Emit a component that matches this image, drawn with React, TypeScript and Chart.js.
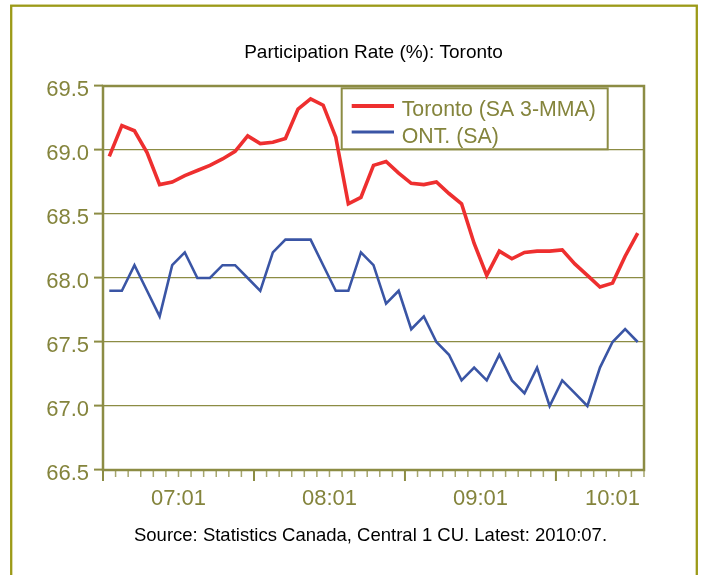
import React, { useEffect, useRef } from "react";
import { Chart, registerables } from "chart.js";

Chart.register(...registerables);

// ---- data ----
const FIRST_YEAR = 2006;
const FIRST_MONTH = 7;
const MONTH_COUNT = 43;
const MONTHS: string[] = [];
for (let i = 0; i < MONTH_COUNT; i++) {
  const m = FIRST_MONTH - 1 + i;
  const y = FIRST_YEAR + Math.floor(m / 12);
  const mm = (m % 12) + 1;
  MONTHS.push(`${y}:${mm < 10 ? "0" + mm : mm}`);
}

const TORONTO_SA_3MMA: number[] = [
  68.95, 69.19, 69.15, 68.98, 68.73, 68.75, 68.8, 68.84, 68.88, 68.93,
  68.99, 69.11, 69.05, 69.06, 69.09, 69.32, 69.4, 69.35, 69.1, 68.58,
  68.63, 68.88, 68.91, 68.82, 68.74, 68.73, 68.75, 68.66, 68.58, 68.27,
  68.02, 68.21, 68.15, 68.2, 68.21, 68.21, 68.22, 68.11, 68.02, 67.93,
  67.96, 68.17, 68.35,
];

const ONT_SA: number[] = [
  67.9, 67.9, 68.1, 67.9, 67.7, 68.1, 68.2, 68.0, 68.0, 68.1,
  68.1, 68.0, 67.9, 68.2, 68.3, 68.3, 68.3, 68.1, 67.9, 67.9,
  68.2, 68.1, 67.8, 67.9, 67.6, 67.7, 67.5, 67.4, 67.2, 67.3,
  67.2, 67.4, 67.2, 67.1, 67.3, 67.0, 67.2, 67.1, 67.0, 67.3,
  67.5, 67.6, 67.5,
];

const SERIES_NAMES = ["Toronto (SA 3-MMA)", "ONT. (SA)"];
const X_TICK_CATEGORIES = ["2007:01", "2008:01", "2009:01", "2010:01"];
const X_TICK_LABELS = ["07:01", "08:01", "09:01", "10:01"];
const Y_MIN = 66.5;
const Y_MAX = 69.5;
const Y_STEP = 0.5;
const TITLE = "Participation Rate (%): Toronto";
const SOURCE = "Source: Statistics Canada, Central 1 CU. Latest: 2010:07.";

// ---- styles ----
const FONT = "'Liberation Sans', Arial, Helvetica, sans-serif";
const OLIVE = "#84843c";
const GRID = "#8c8c44";
const FRAME = "#9c9a18";
const RED = "#ee2f2f";
const BLUE = "#3a55a5";

const decor = {
  id: "decor",
  beforeDraw(chart: any) {
    const ctx = chart.ctx;
    ctx.save();
    ctx.fillStyle = "#ffffff";
    ctx.fillRect(0, 0, chart.width, chart.height);
    ctx.strokeStyle = FRAME;
    ctx.lineWidth = 2.3;
    ctx.strokeRect(11.2, 5.7, 685.6, 640);
    ctx.restore();
  },
  afterDraw(chart: any) {
    const ctx = chart.ctx;
    const a = chart.chartArea;
    const xs = chart.scales.x;
    ctx.save();

    // x tick marks (between categories)
    for (let i = 0; i <= MONTHS.length; i++) {
      const px = xs.getPixelForValue(i - 0.5);
      const major = i % 12 === 0;
      ctx.strokeStyle = major ? GRID : "#a6a66e";
      ctx.lineWidth = major ? 2 : 1.5;
      ctx.beginPath();
      ctx.moveTo(px, a.bottom);
      ctx.lineTo(px, a.bottom + (major ? 11 : 7));
      ctx.stroke();
    }

    // x labels
    ctx.font = `22px ${FONT}`;
    ctx.fillStyle = OLIVE;
    ctx.textAlign = "center";
    ctx.textBaseline = "alphabetic";
    X_TICK_CATEGORIES.forEach((c, j) => {
      const idx = MONTHS.indexOf(c);
      const label = X_TICK_LABELS[j];
      const w = ctx.measureText(label).width;
      let px = xs.getPixelForValue(idx - 0.5);
      px = Math.min(px, a.right - 4 - w / 2);
      ctx.fillText(label, px, 504.5);
    });

    // plot border
    ctx.strokeStyle = GRID;
    ctx.lineWidth = 2.5;
    ctx.strokeRect(a.left, a.top, a.right - a.left, a.bottom - a.top);

    // legend
    const lx = 341.7, ly = 88.3, lw = 266, lh = 61;
    ctx.fillStyle = "#ffffff";
    ctx.fillRect(lx, ly, lw, lh);
    ctx.strokeStyle = GRID;
    ctx.lineWidth = 2;
    ctx.strokeRect(lx, ly, lw, lh);
    const rows = [
      { y: 106, base: 116, color: RED, width: 4 },
      { y: 132, base: 142.7, color: BLUE, width: 3 },
    ];
    ctx.font = `21.3px ${FONT}`;
    ctx.textAlign = "left";
    chart.data.datasets.forEach((ds: any, i: number) => {
      const r = rows[i];
      ctx.strokeStyle = r.color;
      ctx.lineWidth = r.width;
      ctx.beginPath();
      ctx.moveTo(351.7, r.y);
      ctx.lineTo(394, r.y);
      ctx.stroke();
      ctx.fillStyle = OLIVE;
      ctx.fillText(ds.label, 401.7, r.base);
    });

    // title and source
    ctx.fillStyle = "#000000";
    ctx.textAlign = "center";
    ctx.font = `19px ${FONT}`;
    ctx.fillText(TITLE, 373.5, 57.7);
    ctx.font = `18.5px ${FONT}`;
    ctx.fillText(SOURCE, 370.5, 540.7);

    ctx.restore();
  },
};

export default function App() {
  const ref = useRef<HTMLCanvasElement | null>(null);

  useEffect(() => {
    if (!ref.current) return;
    const chart = new Chart(ref.current, {
      type: "line",
      data: {
        labels: MONTHS,
        datasets: [
          {
            label: SERIES_NAMES[0],
            data: TORONTO_SA_3MMA,
            borderColor: RED,
            backgroundColor: RED,
            borderWidth: 3.6,
            pointRadius: 0,
            tension: 0,
            fill: false,
          },
          {
            label: SERIES_NAMES[1],
            data: ONT_SA,
            borderColor: BLUE,
            backgroundColor: BLUE,
            borderWidth: 2.6,
            pointRadius: 0,
            tension: 0,
            fill: false,
          },
        ],
      },
      options: {
        animation: false,
        responsive: false,
        devicePixelRatio: 1,
        layout: { padding: { left: 0, right: 60, top: 86, bottom: 0 } },
        plugins: {
          legend: { display: false },
          title: { display: false },
          tooltip: { enabled: false },
        },
        events: [],
        scales: {
          x: {
            type: "category",
            offset: true,
            grid: { display: false },
            border: { display: false },
            ticks: { display: false },
            afterFit: (s: any) => {
              s.height = 105;
            },
          },
          y: {
            type: "linear",
            min: Y_MIN,
            max: Y_MAX,
            border: { display: false },
            grid: {
              color: GRID,
              lineWidth: 1.2,
              drawTicks: true,
              tickLength: 9,
              tickWidth: 2,
              tickColor: GRID,
            },
            ticks: {
              stepSize: Y_STEP,
              padding: 5,
              labelOffset: 3.5,
              color: OLIVE,
              font: { family: FONT, size: 22 },
              callback: (v: any) => Number(v).toFixed(1),
            },
            afterFit: (s: any) => {
              s.width = 103;
            },
          },
        },
      },
      plugins: [decor],
    });
    return () => chart.destroy();
  }, []);

  return (
    <div style={{ position: "fixed", left: 0, top: 0, width: 704, height: 575, background: "#fff" }}>
      <canvas ref={ref} width={704} height={575} style={{ display: "block" }} />
    </div>
  );
}
